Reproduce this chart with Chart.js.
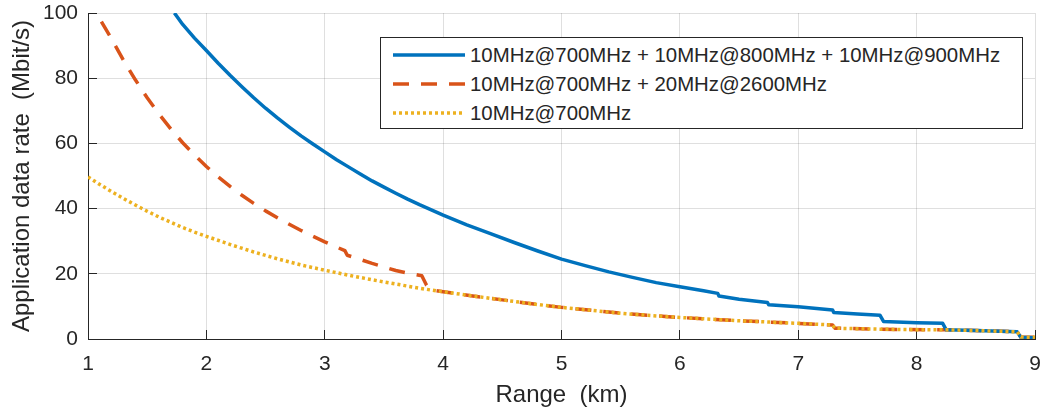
<!DOCTYPE html>
<html>
<head>
<meta charset="utf-8">
<script src="https://cdn.jsdelivr.net/npm/chart.js@4.4.1/dist/chart.umd.min.js"></script>
<style>
  html, body { margin: 0; padding: 0; background: #fff; }
  #wrap { position: relative; width: 1051px; height: 413px; }
  #legend {
    position: absolute; left: 380px; top: 37px; width: 641px; height: 90px;
    border: 1px solid #262626; background: #fff;
    font-family: "Liberation Sans", Arial, sans-serif; font-size: 20.4px; color: #262626;
  }
  #legend .row { position: absolute; left: 12px; height: 28px; display: flex; align-items: center; white-space: nowrap; }
  #legend svg { margin-right: 5px; }
</style>
</head>
<body>
<div id="wrap">
  <canvas id="rateChart" width="1051" height="413"></canvas>
  <div id="legend"></div>
</div>
<script>
// series labels
var seriesLabels = [
    '10MHz@700MHz + 10MHz@800MHz + 10MHz@900MHz',
    '10MHz@700MHz + 20MHz@2600MHz',
    '10MHz@700MHz'
];

// three bands aggregated (km / Mbit/s)
var threeBandX = [1.73, 1.8, 1.9, 2.0, 2.1, 2.2, 2.3, 2.4, 2.5, 2.6, 2.7, 2.8, 2.9, 3.0, 3.1, 3.2, 3.3, 3.4, 3.5, 3.6, 3.7, 3.8, 3.9, 4.0,
    4.2, 4.4, 4.6, 4.8, 5.0, 5.2, 5.4, 5.6, 5.8, 6.0, 6.2, 6.32, 6.33, 6.5, 6.74, 6.75, 7.0, 7.29, 7.3, 7.5, 7.69, 7.72,
    8.0, 8.22, 8.25, 8.5, 8.85, 8.88, 9.0];
var threeBandY = [100, 96.5, 92.3, 88.5, 84.6, 80.9, 77.4, 74.0, 70.8, 67.8, 65.0, 62.3, 59.8, 57.4, 55.0, 52.8, 50.6, 48.5, 46.6, 44.7, 42.9, 41.2, 39.6, 38.0,
    35.0, 32.3, 29.6, 27.0, 24.5, 22.5, 20.6, 18.9, 17.3, 16.0, 14.8, 14.0, 13.2, 12.2, 11.2, 10.5, 9.9, 8.9, 8.1, 7.7, 7.3, 5.4,
    5.0, 4.8, 2.8, 2.6, 2.2, 0.5, 0.4];

// 700 + 2600
var twoBandX = [1.07, 1.2, 1.3, 1.4, 1.5, 1.6, 1.7, 1.8, 1.9, 2.0, 2.1, 2.2, 2.3, 2.4, 2.5, 2.6, 2.7, 2.8, 2.9, 3.0, 3.1, 3.17, 3.19,
    3.3, 3.4, 3.5, 3.6, 3.7, 3.82, 3.86, 3.9, 4.0, 4.25, 4.5, 4.75, 5.0, 5.25, 5.5, 5.75, 6.0, 6.5, 7.0, 7.29, 7.31,
    7.86, 8.25, 8.5, 8.85, 8.88, 9.0];
var twoBandY = [100, 92.0, 85.5, 79.5, 74.0, 69.0, 64.4, 60.2, 56.4, 52.9, 49.7, 46.8, 44.1, 41.6, 39.3, 37.2, 35.2, 33.3, 31.5, 29.8, 28.2, 27.1, 25.7,
    24.4, 23.2, 22.1, 21.0, 20.2, 19.4, 16.5, 15.0, 14.5, 13.2, 12.0, 10.8, 9.7, 8.8, 7.9, 7.2, 6.6, 5.6, 4.8, 4.3, 3.3,
    2.9, 2.8, 2.6, 2.2, 0.6, 0.5];

// 700 only
var singleBandX = [1.0, 1.1, 1.2, 1.3, 1.4, 1.5, 1.6, 1.7, 1.8, 1.9, 2.0, 2.2, 2.4, 2.6, 2.8, 3.0, 3.25, 3.5, 3.75, 3.9, 4.0,
    4.25, 4.5, 4.75, 5.0, 5.25, 5.5, 5.75, 6.0, 6.5, 7.0, 7.29, 7.31, 7.86, 8.25, 8.5, 8.85, 8.88, 9.0];
var singleBandY = [49.7, 47.4, 45.2, 43.1, 41.1, 39.2, 37.4, 35.8, 34.2, 32.8, 31.5, 29.0, 26.7, 24.6, 22.7, 21.1, 19.2, 17.5, 15.9, 15.0, 14.5,
    13.2, 12.0, 10.8, 9.7, 8.8, 7.9, 7.2, 6.6, 5.6, 4.8, 4.3, 3.3, 2.9, 2.8, 2.6, 2.2, 0.6, 0.5];

var rangeTicks = [1, 2, 3, 4, 5, 6, 7, 8, 9];
var rateTicks = [0, 20, 40, 60, 80, 100];

function toPoints(xs, ys) {
    return xs.map(function(x, i) { return {x: x, y: ys[i]}; });
}

var fontFamily = '"Liberation Sans", Arial, sans-serif';
var axisColor = '#262626';
var gridColor = 'rgba(38,38,38,0.15)';

var datasets = [{
    label: seriesLabels[0],
    data: toPoints(threeBandX, threeBandY),
    borderColor: '#0072BD',
    borderWidth: 3.5,
    order: 1
}, {
    label: seriesLabels[1],
    data: toPoints(twoBandX, twoBandY),
    borderColor: '#D95319',
    borderWidth: 3.5,
    borderDash: [16, 12],
    borderDashOffset: 18,
    order: 2
}, {
    label: seriesLabels[2],
    data: toPoints(singleBandX, singleBandY),
    borderColor: '#EDB120',
    borderWidth: 3.5,
    borderDash: [3, 3],
    order: 0
}];
datasets.forEach(function(ds) {
    ds.showLine = true;
    ds.pointRadius = 0;
    ds.tension = 0;
    ds.fill = false;
    ds.borderCapStyle = 'butt';
    ds.borderJoinStyle = 'round';
});

// keep the axes box exactly where the reference has it
function noScalePadding(scale) {
    scale.paddingTop = 0;
    scale.paddingBottom = 0;
    scale.paddingLeft = 0;
    scale.paddingRight = 0;
}

var ctx = document.getElementById('rateChart').getContext('2d');
new Chart(ctx, {
    type: 'scatter',
    data: { datasets: datasets },
    options: {
        responsive: false,
        animation: false,
        devicePixelRatio: 1,
        layout: { padding: { top: 13, right: 16, left: 0, bottom: 0 } },
        plugins: { legend: { display: false }, tooltip: { enabled: false } },
        scales: {
            x: {
                type: 'linear',
                min: rangeTicks[0],
                max: rangeTicks[rangeTicks.length - 1],
                afterBuildTicks: function(scale) {
                    scale.ticks = rangeTicks.map(function(v) { return {value: v}; });
                },
                afterFit: function(scale) { scale.height = 74; noScalePadding(scale); },
                grid: { color: gridColor, tickColor: axisColor, tickLength: -9, tickWidth: 1 },
                border: { color: axisColor, width: 1 },
                ticks: { color: axisColor, font: { family: fontFamily, size: 21 }, padding: 22, maxRotation: 0 },
                title: {
                    display: true, text: 'Range  (km)', color: axisColor,
                    font: { family: fontFamily, size: 24 }, padding: { top: 0, bottom: 3 }
                }
            },
            y: {
                type: 'linear',
                min: rateTicks[0],
                max: rateTicks[rateTicks.length - 1],
                afterBuildTicks: function(scale) {
                    scale.ticks = rateTicks.map(function(v) { return {value: v}; });
                },
                afterFit: function(scale) { scale.width = 88; noScalePadding(scale); },
                grid: { color: gridColor, tickColor: axisColor, tickLength: -9, tickWidth: 1 },
                border: { color: axisColor, width: 1 },
                ticks: { color: axisColor, font: { family: fontFamily, size: 21 }, padding: 19 },
                title: {
                    display: true, text: 'Application data rate  (Mbit/s)', color: axisColor,
                    font: { family: fontFamily, size: 24 }, padding: { top: 8, bottom: 0 }
                }
            }
        }
    }
});

// legend box (MATLAB style, inside the axes)
var legendEl = document.getElementById('legend');
datasets.forEach(function(ds, i) {
    var row = document.createElement('div');
    row.className = 'row';
    row.style.top = (3 + i * 29) + 'px';
    var dash = ds.borderDash ? ds.borderDash.join(' ') : 'none';
    row.innerHTML = '<svg width="72" height="10"><line x1="0" y1="5" x2="72" y2="5" stroke="' + ds.borderColor +
        '" stroke-width="' + ds.borderWidth + '" stroke-dasharray="' + dash + '"/></svg>';
    var span = document.createElement('span');
    span.textContent = ds.label;
    row.appendChild(span);
    legendEl.appendChild(row);
});
</script>
</body>
</html>
